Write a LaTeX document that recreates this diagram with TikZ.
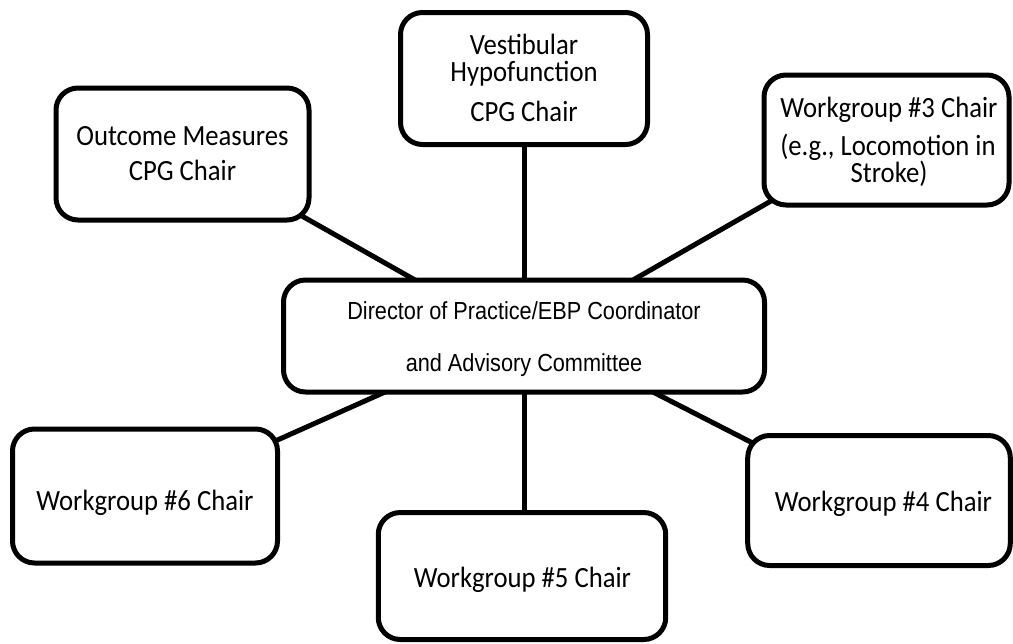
\documentclass[tikz,border=0pt]{standalone}
\usepackage{fontspec}
\setmainfont[FakeStretch=0.91]{Carlito}
\newfontfamily\hubfont[FakeStretch=0.88]{Liberation Sans}
\usetikzlibrary{calc,backgrounds}

\begin{document}
\begin{tikzpicture}[x=0.75pt,y=-0.75pt,
  chairbox/.style={draw=black, line width=3.75pt, rounded corners=16.5pt,
    fill=white, inner sep=0pt, outer sep=0pt},
  boxtext/.style={anchor=base, inner sep=0pt,
    font=\fontsize{22pt}{26pt}\selectfont},
  hubtext/.style={anchor=base, inner sep=0pt,
    font=\hubfont\fontsize{18.5pt}{22pt}\selectfont},
  link/.style={draw=black, line width=3.75pt, shorten <=-4pt, shorten >=-4pt}]
\useasboundingbox (0,0) rectangle (1013,643);

% boxes
\node[chairbox, minimum width=185.25pt, minimum height=99pt]   (vest) at (524,78.5)  {};
\node[chairbox, minimum width=189.75pt, minimum height=99pt]   (om)   at (182.5,154) {};
\node[chairbox, minimum width=183.75pt, minimum height=97.5pt] (wg3)  at (886.5,140) {};
\node[chairbox, minimum width=360.75pt, minimum height=84pt]   (ctr)  at (524,336)   {};
\node[chairbox, minimum width=198.75pt, minimum height=100.5pt](wg6)  at (145,496)   {};
\node[chairbox, minimum width=215.6pt,  minimum height=95.25pt](wg5)  at (522,576)   {};
\node[chairbox, minimum width=196.9pt,  minimum height=97.5pt] (wg4)  at (879,500.5) {};

% box texts
\node[boxtext] (vestA) at (524,54)  {Vestibular};
\node[boxtext] (vestB) at (524,81)  {Hypofunction};
\node[boxtext] (vestC) at (524,121) {CPG Chair};

\node[boxtext] (omA) at (182.5,145) {Outcome Measures};
\node[boxtext] (omB) at (182.5,180) {CPG Chair};

\node[boxtext] (wg3A) at (889,117) {Workgroup \#3 Chair};
\node[boxtext] (wg3B) at (888,155) {(e.g., Locomotion in};
\node[boxtext] (wg3C) at (889,182) {Stroke)};

\node[hubtext] (ctrA) at (524,319) {Director of Practice/EBP Coordinator};
\node[hubtext] (ctrB) at (524,371) {and Advisory Committee};

\node[boxtext] (wg6A) at (145,510)   {Workgroup \#6 Chair};
\node[boxtext] (wg5A) at (522.5,587) {Workgroup \#5 Chair};
\node[boxtext] (wg4A) at (883.5,511) {Workgroup \#4 Chair};

% connectors, behind the boxes
\begin{scope}[on background layer]
\draw[link] (vest.south) -- (ctr.north);
\draw[link, shorten <=-14pt] (om.south east) -- ($(ctr.north)+(-109,0)$);
\draw[link, shorten >=-14pt] ($(ctr.north)+(109,0)$) -- (wg3.south west);
\draw[link] ($(ctr.south)+(-139,0)$) -- ($(wg6.north east)+(0,11)$);
\draw[link] (ctr.south) -- (ctr.south |- wg5.north);
\draw[link] ($(ctr.south)+(129,0)$) -- ($(wg4.north west)+(0,5)$);
\end{scope}
\end{tikzpicture}
\end{document}
